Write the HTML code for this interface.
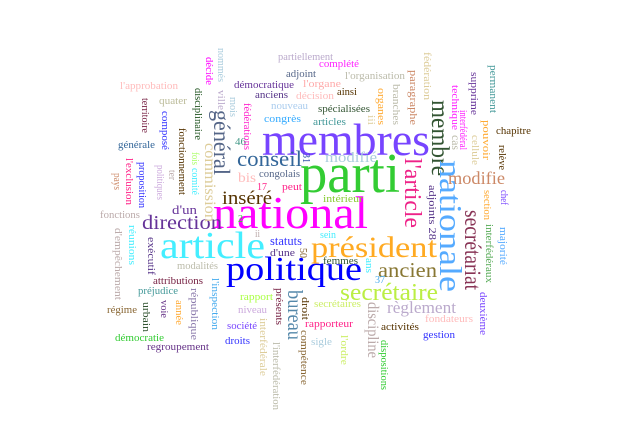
<!DOCTYPE html>
<html><head><meta charset="utf-8"><style>
html,body{margin:0;padding:0;background:#fff;width:627px;height:423px;overflow:hidden}
svg text{font-family:"Liberation Serif",serif}
</style></head><body>
<svg id="cloud" width="627" height="423" viewBox="0 0 627 423" xmlns="http://www.w3.org/2000/svg"></svg>
<script>
// word, x, y, size, color, rotated(0/1), length
const words = [
["national",213,228,46,"#ff00ff",0,155],
["parti",300,192,56,"#33cc33",0,100],
["membres",262,155,46,"#7744ff",0,168],
["article",160,258,38,"#44eeff",0,105],
["politique",226,280,34,"#0000ff",0,136],
["président",311,257,30,"#ffaa22",0,126],
["secrétaire",340,300,24,"#bbee44",0,98],
["ancien",378,277,21,"#887733",0,59],
["conseil",237,166,22,"#336699",0,65],
["direction",142,229,20,"#663399",0,80],
["inséré",222,204,19,"#553300",0,50],
["modifie",448,184,18,"#cc8866",0,57],
["modifié",325,162,15,"#aaccdd",0,52],
["règlement",387,313,17,"#bbaacc",0,69],
["partiellement",278,60,11,"#bbaacc",0,55],
["adjoint",286,77,11,"#556688",0,30],
["l'organe",303,87,11,"#ffaaaa",0,38],
["décision",296,99,11,"#ffbbbb",0,38],
["démocratique",234,88,11,"#663399",0,60],
["anciens",255,98,11,"#553388",0,33],
["nouveau",271,109,11,"#aaccee",0,37],
["congrès",264,122,11,"#33aaff",0,37],
["l'approbation",120,89,11,"#ffbbbb",0,58],
["quater",159,104,11,"#bbbb99",0,28],
["générale",118,148,11,"#336699",0,37],
["fonctions",100,218,11,"#bbaaaa",0,40],
["bis",238,182,14,"#ffbbbb",0,18],
["congolais",259,177,11,"#556688",0,41],
["17",257,190,11,"#ff2288",0,10],
["peut",282,190,11,"#ff2288",0,20],
["d'un",172,214,13,"#663399",0,25],
["46",235,145,10,"#449988",0,11],
["complété",319,67,11,"#ff22ff",0,40],
["l'organisation",345,79,11,"#bbbbaa",0,60],
["ainsi",337,95,11,"#553300",0,20],
["spécialisées",318,112,11,"#335533",0,52],
["articles",313,125,11,"#449999",0,33],
["intérieur",323,202,11,"#88cc33",0,40],
["chapitre",496,134,11,"#553300",0,35],
["2",238,222,10,"#33cc33",0,5],
["ii",255,237,10,"#bbaaaa",0,5],
["statuts",270,245,13,"#3333ff",0,32],
["d'une",270,256,11,"#553388",0,25],
["modalités",177,269,11,"#bbbbaa",0,41],
["attributions",153,284,11,"#772244",0,50],
["préjudice",138,294,11,"#449999",0,40],
["régime",107,313,11,"#886633",0,30],
["démocratie",115,341,11,"#33cc33",0,49],
["regroupement",147,350,11,"#663388",0,62],
["rapport",240,300,11,"#aaff44",0,33],
["niveau",238,313,11,"#ccaadd",0,29],
["société",227,329,11,"#7744ff",0,30],
["droits",225,344,11,"#3333ff",0,25],
["sein",320,238,10,"#44eeff",0,16],
["femmes",323,264,11,"#335533",0,35],
["37",375,283,10,"#44aaee",0,10],
["secrétaires",314,307,11,"#ccee66",0,47],
["rapporteur",305,327,11,"#ff2288",0,48],
["activités",381,330,11,"#553300",0,38],
["fondateurs",425,322,11,"#ffbbbb",0,48],
["gestion",423,338,11,"#3333ff",0,32],
["sigle",311,345,11,"#aaccdd",0,21],
["l'article",405,158,24,"#ee2288",1,70],
["membre",432,100,25,"#335533",1,76],
["nationale",440,160,32,"#55aaff",1,132],
["secrétariat",465,210,23,"#883355",1,80],
["général",214,110,23,"#556688",1,65],
["commission",205,143,16,"#ddcc99",1,79],
["bureau",288,290,21,"#5588aa",1,50],
["discipline",368,302,16,"#bbaaaa",1,56],
["décide",206,57,11,"#ff00ff",1,28],
["nommés",218,48,11,"#aaccdd",1,34],
["ville",218,90,11,"#bbaacc",1,20],
["mois",230,97,11,"#aaccdd",1,20],
["fédérations",244,103,11,"#ff22cc",1,47],
["territoire",142,98,11,"#772244",1,35],
["composé",162,111,11,"#3333ff",1,39],
["disciplinaire",195,88,11,"#225522",1,52],
["fonctionnement",179,128,11,"#553300",1,67],
["fois",192,152,11,"#aaff66",1,13],
["comité",192,168,11,"#44eeff",1,27],
["politiques",157,165,11,"#ccaadd",1,35],
["proposition",139,162,11,"#3333ff",1,46],
["l'exclusion",126,158,11,"#ff2288",1,47],
["pays",114,173,11,"#cc8866",1,17],
["ter",169,170,11,"#bbaaaa",1,10],
["31",303,153,10,"#3355aa",1,10],
["fédération",424,52,11,"#ddcc99",1,48],
["paragraphe",410,70,11,"#cc8866",1,55],
["branches",393,84,11,"#bbbbaa",1,41],
["organes",378,88,11,"#ffaa33",1,37],
["iii",368,115,10,"#ddcc99",1,10],
["technique",452,85,11,"#ff22ff",1,45],
["supprime",471,72,11,"#663399",1,43],
["interfédéral",460,110,11,"#ff22ff",1,40],
["permanent",490,65,11,"#449999",1,48],
["pouvoir",483,120,11,"#ffaa33",1,40],
["cellule",472,135,11,"#ddcc99",1,30],
["cas",452,135,12,"#bbbbaa",1,15],
["relève",499,145,11,"#553300",1,25],
["chef",501,190,11,"#7744ff",1,15],
["section",484,190,11,"#ffaa33",1,30],
["adjoints 28",429,185,11,"#553388",1,55],
["réunions",129,225,11,"#44eeff",1,40],
["d'empêchement",115,228,11,"#bbaaaa",1,72],
["exécutif",148,237,11,"#553388",1,38],
["urbain",143,302,11,"#335533",1,30],
["voie",161,300,11,"#663388",1,18],
["année",176,300,11,"#ffaa33",1,25],
["république",191,288,11,"#8877aa",1,52],
["l'inspection",212,278,11,"#44aaee",1,52],
["présents",276,288,11,"#772244",1,37],
["interfédérale",260,318,11,"#ddcc99",1,58],
["l'interfédération",273,342,11,"#bbbbaa",1,68],
["droit",302,297,11,"#553300",1,23],
["compétence",301,330,11,"#886633",1,55],
["50",300,248,10,"#886633",1,10],
["ans",366,258,10,"#44eeff",1,15],
["l'ordre",341,335,11,"#ccee66",1,30],
["dispositions",381,340,11,"#33cc33",1,50],
["interfédéraux",486,224,11,"#55aa55",1,59],
["majorité",500,227,11,"#55aaff",1,38],
["deuxième",480,292,11,"#7744ff",1,43]
];
const svg = document.getElementById('cloud');
const NS = 'http://www.w3.org/2000/svg';
for (const w of words) {
  const [text, x, y, size, color, rot, len] = w;
  const t = document.createElementNS(NS, 'text');
  
  
  t.setAttribute('font-size', size);
  t.setAttribute('fill', color);
  t.setAttribute('textLength', len);
  t.setAttribute('lengthAdjust', 'spacingAndGlyphs');
  if (rot) {
    t.setAttribute('transform', 'translate(' + x + ',' + y + ') rotate(90)');
  } else {
    t.setAttribute('x', x);
    t.setAttribute('y', y);
  }
  t.textContent = text;
  svg.appendChild(t);
}
</script>
</body></html>
